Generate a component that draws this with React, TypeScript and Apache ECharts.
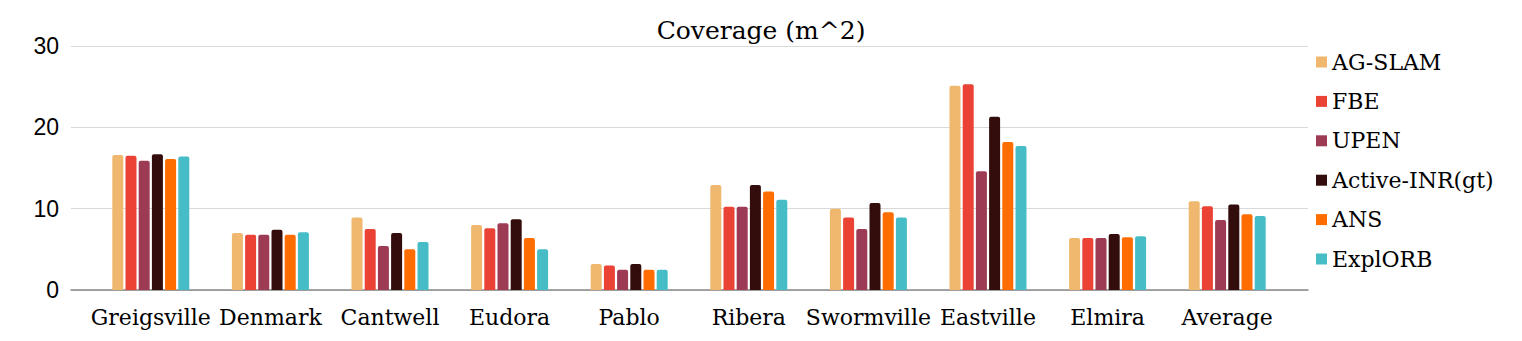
import React, { useEffect, useRef } from "react";
import * as echarts from "echarts";

const categories = ["Greigsville", "Denmark", "Cantwell", "Eudora", "Pablo", "Ribera", "Swormville", "Eastville", "Elmira", "Average"];
const seriesNames = ["AG-SLAM", "FBE", "UPEN", "Active-INR(gt)", "ANS", "ExplORB"];
const agSlam = [16.6, 7.0, 8.9, 8.0, 3.2, 12.9, 10.0, 25.1, 6.4, 10.9];
const fbe = [16.5, 6.8, 7.5, 7.6, 3.0, 10.25, 8.9, 25.3, 6.4, 10.3];
const upen = [15.9, 6.8, 5.4, 8.2, 2.5, 10.25, 7.5, 14.6, 6.4, 8.6];
const activeInr = [16.7, 7.4, 7.0, 8.7, 3.2, 12.9, 10.7, 21.3, 6.9, 10.5];
const ans = [16.1, 6.8, 5.0, 6.4, 2.5, 12.1, 9.55, 18.2, 6.5, 9.3];
const explorb = [16.4, 7.1, 5.9, 5.0, 2.5, 11.1, 8.9, 17.7, 6.6, 9.1];
const seriesValues = [agSlam, fbe, upen, activeInr, ans, explorb];
const colors = ["#F0B86E", "#EA4335", "#9E3B54", "#330C0C", "#FF6D00", "#46BDC6"];
const yTicks = { min: 0, max: 30, interval: 10 };

const serif = "'DejaVu Serif', 'Liberation Serif', serif";
const sans = "'Liberation Sans', Arial, sans-serif";

export default function App() {
  const ref = useRef<HTMLDivElement>(null);
  useEffect(() => {
    if (!ref.current) return;
    const chart = echarts.init(ref.current, undefined, { renderer: "svg" });
    chart.setOption({
      animation: false,
      backgroundColor: "#ffffff",
      title: {
        text: "Coverage (m^2)",
        left: "center",
        top: 13,
        textStyle: { fontFamily: serif, fontSize: 25, fontWeight: "normal", color: "#000" },
      },
      legend: {
        orient: "vertical",
        left: 1311,
        top: 46,
        itemWidth: 11,
        itemHeight: 11,
        itemGap: 17.4,
        icon: "rect",
        data: seriesNames,
        textStyle: { fontFamily: serif, fontSize: 22, color: "#000", lineHeight: 22, padding: [0, 0, 0, 0] },
      },
      grid: [
        { left: 71, right: 214, top: 46, bottom: 51, containLabel: false },
        { left: 91, right: 235, top: 46, bottom: 51, containLabel: false },
      ],
      xAxis: [
        {
          type: "value",
          gridIndex: 0,
          min: 0,
          max: 1,
          axisLabel: { show: false },
          axisTick: { show: false },
          splitLine: { show: false },
          axisLine: { show: true, onZero: false, lineStyle: { color: "#888888", width: 1.5 } },
        },
        {
          type: "category",
          gridIndex: 1,
          data: categories,
          axisLine: { show: false },
          axisTick: { show: false },
          axisLabel: { fontFamily: serif, fontSize: 22, color: "#000", margin: 16, interval: 0 },
        },
      ],
      yAxis: [
        {
          type: "value",
          gridIndex: 0,
          ...yTicks,
          axisLine: { show: false },
          axisTick: { show: false },
          axisLabel: { fontFamily: sans, fontSize: 23, color: "#000", margin: 12 },
          splitLine: { lineStyle: { color: "#d9d9d9", width: 1 } },
        },
        {
          type: "value",
          gridIndex: 1,
          ...yTicks,
          show: false,
          splitLine: { show: false },
        },
      ],
      series: seriesNames.map((name, i) => ({
        name,
        type: "bar",
        xAxisIndex: 1,
        yAxisIndex: 1,
        data: seriesValues[i],
        barWidth: 11,
        barGap: "20%",
        itemStyle: { color: colors[i], borderRadius: [2, 2, 0, 0] },
      })),
    });
    return () => chart.dispose();
  }, []);
  return <div ref={ref} style={{ width: 1522, height: 341, position: "absolute", left: 0, top: 0 }} />;
}
